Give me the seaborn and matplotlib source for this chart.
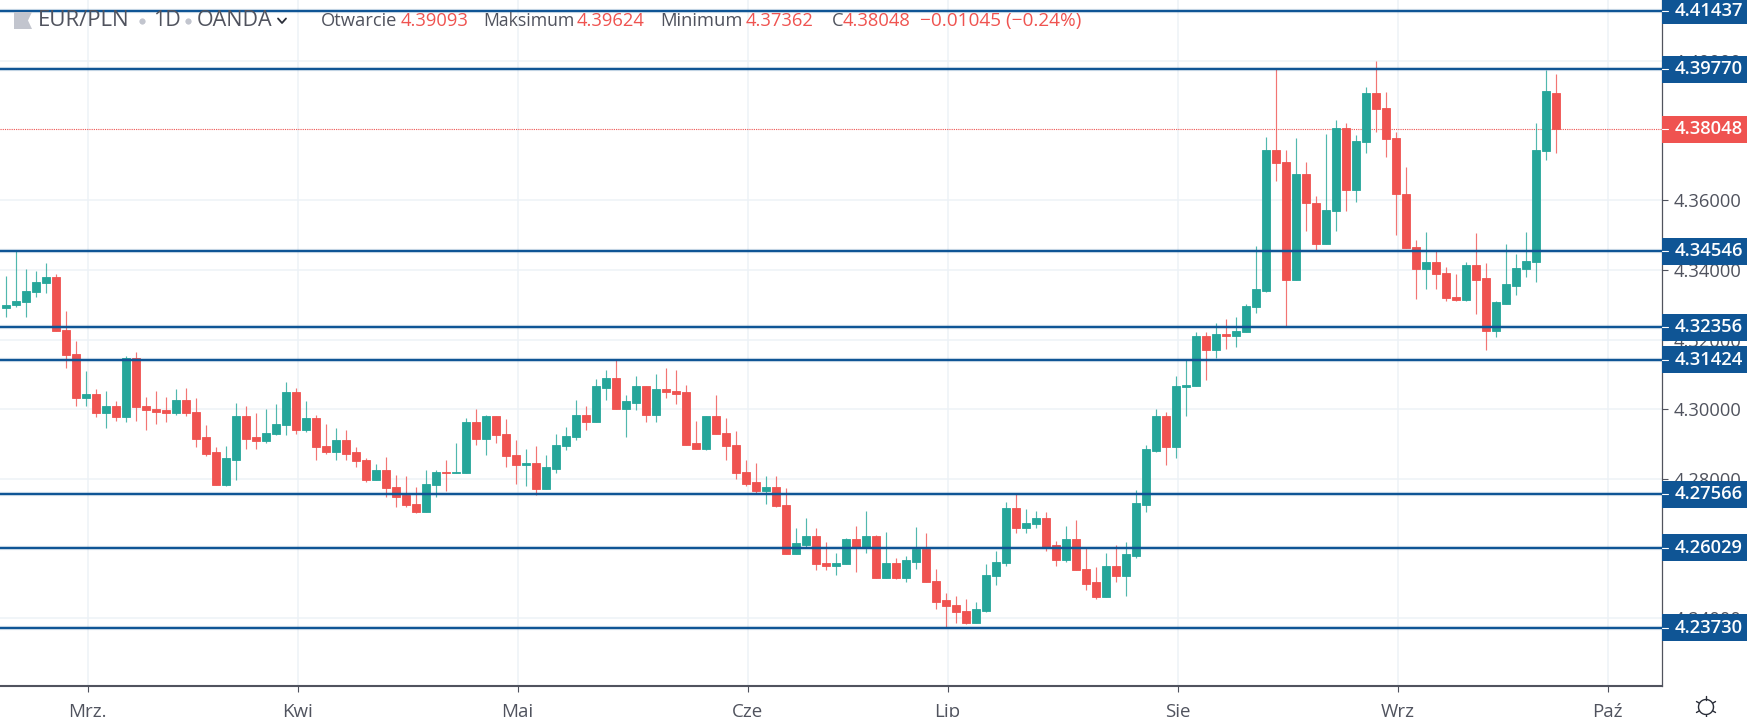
"""
EUR/PLN daily candles with horizontal support and resistance levels
"""

import numpy as np
import pandas as pd
import seaborn as sns
import matplotlib.pyplot as plt
from matplotlib.patches import Rectangle, Polygon
from matplotlib.lines import Line2D

opens = [4.3290, 4.3299, 4.3308, 4.3338, 4.3363, 4.3380, 4.3228, 4.3160, 4.3032, 4.3044,
         4.2989, 4.3010, 4.2977, 4.3147, 4.3010, 4.3001, 4.2998, 4.2989, 4.3027, 4.2993,
         4.2920, 4.2877, 4.2783, 4.2856, 4.2980, 4.2920, 4.2908, 4.2929, 4.2955, 4.3049,
         4.2942, 4.2976, 4.2895, 4.2877, 4.2912, 4.2877, 4.2855, 4.2796, 4.2826, 4.2778,
         4.2753, 4.2727, 4.2706, 4.2783, 4.2821, 4.2817, 4.2817, 4.2963, 4.2916, 4.2980,
         4.2929, 4.2869, 4.2839, 4.2847, 4.2770, 4.2830, 4.2895, 4.2920, 4.2984, 4.2963,
         4.3062, 4.3091, 4.3001, 4.3019, 4.3066, 4.2984, 4.3058, 4.3053, 4.3049, 4.2903,
         4.2886, 4.2980, 4.2933, 4.2898, 4.2821, 4.2791, 4.2765, 4.2778, 4.2726, 4.2585,
         4.2611, 4.2636, 4.2559, 4.2551, 4.2556, 4.2627, 4.2601, 4.2636, 4.2516, 4.2559,
         4.2516, 4.2563, 4.2598, 4.2508, 4.2452, 4.2439, 4.2422, 4.2388, 4.2422, 4.2521,
         4.2559, 4.2718, 4.2658, 4.2671, 4.2688, 4.2611, 4.2568, 4.2627, 4.2542, 4.2503,
         4.2461, 4.2551, 4.2521, 4.2580, 4.2726, 4.2881, 4.2980, 4.2891, 4.3063, 4.3066,
         4.3212, 4.3170, 4.3216, 4.3212, 4.3221, 4.3295, 4.3340, 4.3745, 4.3711, 4.3372,
         4.3676, 4.3593, 4.3475, 4.3570, 4.3808, 4.3630, 4.3767, 4.3908, 4.3865, 4.3779,
         4.3619, 4.3465, 4.3403, 4.3422, 4.3392, 4.3323, 4.3315, 4.3414, 4.3376, 4.3226,
         4.3302, 4.3355, 4.3402, 4.3423, 4.3741, 4.39093]
highs = [4.3384, 4.3455, 4.3404, 4.3397, 4.3419, 4.3388, 4.3281, 4.3195, 4.3109, 4.3058,
         4.3053, 4.3023, 4.3152, 4.3164, 4.3036, 4.3053, 4.3036, 4.3058, 4.3062, 4.3032,
         4.2955, 4.2891, 4.2895, 4.3019, 4.3010, 4.2989, 4.3001, 4.3015, 4.3079, 4.3062,
         4.3023, 4.2984, 4.2958, 4.2946, 4.2941, 4.2891, 4.2860, 4.2843, 4.2864, 4.2812,
         4.2809, 4.2778, 4.2826, 4.2826, 4.2855, 4.2903, 4.2976, 4.3001, 4.2984, 4.2980,
         4.2972, 4.2912, 4.2886, 4.2895, 4.2869, 4.2929, 4.2950, 4.3027, 4.3010, 4.3087,
         4.3113, 4.3144, 4.3041, 4.3096, 4.3066, 4.3101, 4.3118, 4.3113, 4.3070, 4.2967,
         4.2980, 4.3041, 4.2976, 4.2937, 4.2855, 4.2847, 4.2809, 4.2809, 4.2774, 4.2658,
         4.2688, 4.2658, 4.2620, 4.2589, 4.2632, 4.2666, 4.2709, 4.2640, 4.2649, 4.2572,
         4.2580, 4.2662, 4.2645, 4.2542, 4.2473, 4.2465, 4.2456, 4.2448, 4.2555, 4.2593,
         4.2735, 4.2757, 4.2714, 4.2709, 4.2705, 4.2623, 4.2666, 4.2683, 4.2601, 4.2546,
         4.2589, 4.2611, 4.2619, 4.2768, 4.2899, 4.3001, 4.2993, 4.3096, 4.3142, 4.3221,
         4.3221, 4.3247, 4.3259, 4.3264, 4.3302, 4.3469, 4.3783, 4.3977, 4.3745, 4.3780,
         4.3711, 4.3612, 4.3791, 4.3831, 4.3823, 4.3787, 4.3925, 4.3999, 4.3911, 4.3796,
         4.3697, 4.3487, 4.3508, 4.3456, 4.3410, 4.3388, 4.3423, 4.3505, 4.3419, 4.3310,
         4.3474, 4.3445, 4.3508, 4.3823, 4.3973, 4.39624]
lows = [4.3264, 4.3295, 4.3264, 4.3323, 4.3333, 4.3226, 4.3118, 4.3011, 4.3011, 4.2977,
        4.2946, 4.2968, 4.2963, 4.2968, 4.2942, 4.2959, 4.2963, 4.2985, 4.2980, 4.2891,
        4.2865, 4.2783, 4.2779, 4.2796, 4.2886, 4.2886, 4.2903, 4.2925, 4.2925, 4.2929,
        4.2934, 4.2856, 4.2873, 4.2856, 4.2856, 4.2834, 4.2791, 4.2796, 4.2749, 4.2719,
        4.2719, 4.2702, 4.2706, 4.2749, 4.2765, 4.2817, 4.2817, 4.2899, 4.2869, 4.2903,
        4.2834, 4.2787, 4.2779, 4.2753, 4.2770, 4.2817, 4.2882, 4.2912, 4.2941, 4.2963,
        4.3027, 4.3001, 4.2920, 4.2998, 4.2963, 4.2963, 4.3032, 4.3015, 4.2898, 4.2886,
        4.2882, 4.2929, 4.2856, 4.2800, 4.2779, 4.2761, 4.2727, 4.2719, 4.2585, 4.2585,
        4.2606, 4.2538, 4.2538, 4.2525, 4.2556, 4.2533, 4.2589, 4.2516, 4.2516, 4.2512,
        4.2504, 4.2542, 4.2504, 4.2427, 4.2375, 4.2388, 4.2384, 4.2388, 4.2418, 4.2495,
        4.2551, 4.2645, 4.2645, 4.2658, 4.2593, 4.2551, 4.2563, 4.2538, 4.2482, 4.2456,
        4.2461, 4.2504, 4.2465, 4.2572, 4.2705, 4.2877, 4.2839, 4.2860, 4.2981, 4.3066,
        4.3084, 4.3148, 4.3174, 4.3178, 4.3221, 4.3277, 4.3338, 4.3656, 4.3238, 4.3372,
        4.3513, 4.3457, 4.3475, 4.3513, 4.3570, 4.3595, 4.3737, 4.3796, 4.3724, 4.3501,
        4.3463, 4.3316, 4.3346, 4.3346, 4.3312, 4.3312, 4.3312, 4.3273, 4.3170, 4.3209,
        4.3302, 4.3328, 4.3380, 4.3366, 4.3715, 4.37362]
closes = [4.3301, 4.3311, 4.3340, 4.3366, 4.3379, 4.3226, 4.3156, 4.3033, 4.3044, 4.2989,
          4.3010, 4.2977, 4.3147, 4.3007, 4.2998, 4.2993, 4.2989, 4.3027, 4.2989, 4.2916,
          4.2873, 4.2783, 4.2860, 4.2980, 4.2916, 4.2908, 4.2933, 4.2958, 4.3049, 4.2942,
          4.2976, 4.2891, 4.2877, 4.2912, 4.2873, 4.2852, 4.2796, 4.2826, 4.2775, 4.2749,
          4.2724, 4.2706, 4.2787, 4.2821, 4.2817, 4.2821, 4.2963, 4.2916, 4.2980, 4.2925,
          4.2865, 4.2839, 4.2847, 4.2770, 4.2834, 4.2898, 4.2924, 4.2984, 4.2963, 4.3066,
          4.3091, 4.3001, 4.3023, 4.3066, 4.2984, 4.3058, 4.3049, 4.3044, 4.2898, 4.2886,
          4.2980, 4.2929, 4.2895, 4.2817, 4.2787, 4.2765, 4.2778, 4.2722, 4.2585, 4.2615,
          4.2636, 4.2556, 4.2551, 4.2559, 4.2627, 4.2601, 4.2636, 4.2516, 4.2559, 4.2516,
          4.2568, 4.2598, 4.2504, 4.2448, 4.2434, 4.2417, 4.2388, 4.2426, 4.2525, 4.2563,
          4.2718, 4.2658, 4.2675, 4.2688, 4.2606, 4.2568, 4.2627, 4.2538, 4.2499, 4.2461,
          4.2551, 4.2521, 4.2585, 4.2731, 4.2886, 4.2980, 4.2891, 4.3066, 4.3070, 4.3212,
          4.3170, 4.3216, 4.3212, 4.3225, 4.3298, 4.3345, 4.3745, 4.3707, 4.3372, 4.3676,
          4.3592, 4.3475, 4.3572, 4.3808, 4.3630, 4.3770, 4.3908, 4.3862, 4.3776, 4.3617,
          4.3463, 4.3403, 4.3422, 4.3389, 4.3320, 4.3315, 4.3414, 4.3372, 4.3226, 4.3307,
          4.3359, 4.3405, 4.3427, 4.3744, 4.3913, 4.38048]

levels = [4.41437, 4.39770, 4.34546, 4.32356, 4.31424, 4.27566, 4.26029, 4.23730]
last_close = 4.38048
price_ticks = [4.40, 4.36, 4.34, 4.32, 4.30, 4.28, 4.24]
month_labels = ['Mrz.', 'Kwi', 'Maj', 'Cze', 'Lip', 'Sie', 'Wrz', 'Paź']
month_pos = [8, 29, 51, 74, 94, 117, 139, 160]

W, H = 1747, 717
GREEN, RED = '#26a69a', '#ef5350'
BLUE, GREY = '#0f5595', '#50535e'
FONT = 'Open Sans'


def px(x, y):
    return x / W, 1 - y / H


sns.set_style('white')
plt.rcParams['font.family'] = [FONT, 'DejaVu Sans']

df = pd.DataFrame({'day': np.arange(len(opens)), 'open': opens, 'high': highs,
                   'low': lows, 'close': closes})
df['up'] = df['close'] >= df['open']
df['base'] = df[['open', 'close']].min(axis=1)
df['size'] = (df['open'] - df['close']).abs()

fig = plt.figure(figsize=(W / 100, H / 100), dpi=100)
ax = fig.add_axes([0, 1 - 686 / H, 1662 / W, 686 / H])

# wicks, then bodies
for up, col in [(True, GREEN), (False, RED)]:
    part = df[df['up'] == up]
    ax.vlines(part['day'], part['low'], part['high'], color=col, lw=0.85, alpha=0.8, zorder=3)
    sns.barplot(data=part, x='day', y='size', bottom=part['base'].values, native_scale=True,
                color=col, saturation=1, width=0.72, errorbar=None, ax=ax, zorder=4,
                edgecolor=col, linewidth=0.6)

for lev in levels:
    ax.axhline(lev, color=BLUE, lw=3.0, alpha=0.22, zorder=5)
    ax.axhline(lev, color=BLUE, lw=1.5, zorder=5)
ax.axhline(last_close, color=RED, lw=0.8, ls=(0, (1, 1)), zorder=2)

# the grid sits a pixel or so right of the candles, as in the original
ax.set_xlim(-0.6, 165.6)
ax.set_ylim(4.30 - 277.2 / 3490, 4.30 + 408.8 / 3490 + 1.4 / 3490)
ax.set_xticks([m + 0.15 for m in month_pos])
ax.set_xticklabels(month_labels)
ax.yaxis.tick_right()
ax.set_yticks(price_ticks)
ax.set_yticklabels(['{:.5f}'.format(p) for p in price_ticks])
ax.set_xlabel('')
ax.set_ylabel('')
ax.set_axisbelow(True)
ax.grid(True, color='#edf2f7', lw=1.1)
ax.tick_params(axis='x', length=4.5, width=0.8, color=GREY, labelcolor=GREY, labelsize=13.5, pad=8,
               bottom=True)
ax.tick_params(axis='y', length=4.5, width=0.8, color=GREY, labelcolor=GREY, labelsize=13.2, pad=4,
               right=True)
for name in ['top', 'left']:
    ax.spines[name].set_visible(False)
ax.spines['right'].set_color(GREY)
ax.spines['right'].set_linewidth(0.9)
ax.spines['bottom'].set_color(GREY)
ax.spines['bottom'].set_linewidth(1.5)

# price boxes on the scale
box_w = 85 / 1662
box_h = 27 / 3490
trans = ax.get_yaxis_transform()
for lev, col in [(v, BLUE) for v in levels] + [(last_close, RED)]:
    ax.add_patch(Rectangle((1.0, lev - box_h / 2), box_w, box_h, transform=trans, color=col,
                           clip_on=False, zorder=6, lw=0))
    ax.plot([1.0, 1.0 + 6 / 1662], [lev, lev], transform=trans, color='white', lw=0.8,
            clip_on=False, zorder=7)
    ax.text(1.0 + 13 / 1662, lev, '{:.5f}'.format(lev), transform=trans, color='white',
            fontsize=13.2, fontweight='semibold', va='center', ha='left', zorder=7, clip_on=False)


# header
def head(x, text, col=GREY, size=13.2):
    fig.text(*px(x, 21), text, color=col, fontsize=size, va='center', ha='left', zorder=8)


fig.add_artist(Polygon([px(14, 12), px(32, 12), px(28, 20.5), px(32, 29), px(14, 29)],
                       closed=True, color='#c2c5ce', lw=0, transform=fig.transFigure, zorder=8))
head(38, 'EUR/PLN', size=16)
head(153, '1D', size=15.5)
head(197, 'OANDA', size=15.5)
for dot_x in [142, 187.5]:
    fig.add_artist(Line2D(*zip(px(dot_x, 21), px(dot_x + 0.1, 21)), marker='o', ms=3.2,
                          color='#c2c5ce', lw=0, transform=fig.transFigure, zorder=8))
fig.add_artist(Line2D(*zip(px(278, 18.5), px(282, 23), px(286, 18.5)), color='#2a2e39', lw=1.3,
                      transform=fig.transFigure, zorder=8))
head(321, 'Otwarcie')
head(401, '4.39093', RED)
head(483, 'Maksimum', size=12.7)
head(577, '4.39624', RED)
head(660, 'Minimum')
head(746, '4.37362', RED)
head(832, 'C')
head(843, '4.38048', RED)
head(920, '\u22120.01045 (\u22120.24%)', RED, size=13.7)

# settings icon in the corner
cx, cy = 1706, 707
angles = np.deg2rad(np.arange(0, 360, 60) + 30)
circle_t = np.linspace(0, 2 * np.pi, 60)
fig.add_artist(Line2D(*zip(*[px(cx + 7.5 * np.cos(t), cy + 7.5 * np.sin(t)) for t in circle_t]),
                      color='#2a2e39', lw=1.0, transform=fig.transFigure, zorder=8))
for a in angles:
    fig.add_artist(Line2D(*zip(px(cx + 7.5 * np.cos(a), cy + 7.5 * np.sin(a)),
                               px(cx + 11 * np.cos(a), cy + 11 * np.sin(a))),
                          color='#2a2e39', lw=1.0, transform=fig.transFigure, zorder=8))

fig.savefig('out.png', dpi=100)
